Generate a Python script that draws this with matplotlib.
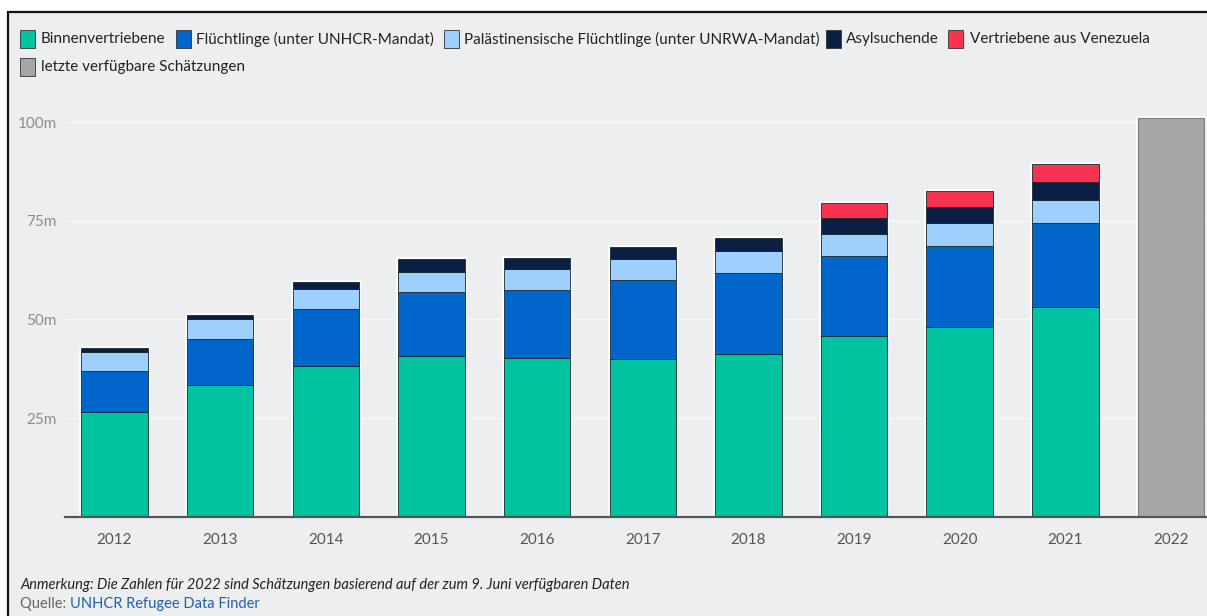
import matplotlib
matplotlib.use("Agg")
import matplotlib.pyplot as plt
from matplotlib.patches import Rectangle
import numpy as np

# ---------------- data ----------------
years = ["2012", "2013", "2014", "2015", "2016", "2017", "2018", "2019", "2020", "2021"]
est_year = "2022"
binnen = [26.4, 33.3, 38.2, 40.8, 40.3, 40.0, 41.3, 45.7, 48.0, 53.2]
fluecht = [10.5, 11.7, 14.4, 16.1, 17.2, 19.9, 20.4, 20.4, 20.7, 21.3]
palaest = [4.9, 5.0, 5.1, 5.2, 5.3, 5.4, 5.5, 5.6, 5.7, 5.8]
asyl = [0.9, 1.2, 1.8, 3.2, 2.8, 3.1, 3.5, 4.1, 4.1, 4.6]
venez = [0, 0, 0, 0, 0, 0, 0, 3.6, 3.9, 4.4]
estimate_2022 = 100.9

series_names = ["Binnenvertriebene", "Flüchtlinge (unter UNHCR-Mandat)",
                "Palästinensische Flüchtlinge (unter UNRWA-Mandat)", "Asylsuchende",
                "Vertriebene aus Venezuela"]
est_name = "letzte verfügbare Schätzungen"
ytick_vals = [25, 50, 75, 100]
ytick_labels = ["25m", "50m", "75m", "100m"]
note_text = "Anmerkung: Die Zahlen für 2022 sind Schätzungen basierend auf der zum 9. Juni verfügbaren Daten"
source_prefix = "Quelle: "
source_link = "UNHCR Refugee Data Finder"

# ---------------- style ----------------
colors = ["#00c49f", "#0066cc", "#9ed0ff", "#0b1f45", "#f7334f"]
gray = "#a6a6a6"
bg = "#eceef0"
FONT = "Lato"
plt.rcParams["font.family"] = [FONT, "DejaVu Sans"]

W, H = 1207, 616
fig = plt.figure(figsize=(W / 100, H / 100), dpi=100, facecolor="white")

# framed background panel
frame = Rectangle((8 / W, -0.1), 1.2, 1.1 - 12 / H, transform=fig.transFigure,
                  facecolor=bg, edgecolor="#111111", linewidth=1.6, zorder=0)
fig.add_artist(frame)

ax_left = 65 / W
ax_bottom = 1 - 516.7 / H
ymax = 104
ax_top_px = 516.7 - ymax * 3.947
ax = fig.add_axes([ax_left, ax_bottom, 1 - ax_left, (516.7 - ax_top_px) / H])
ax.patch.set_visible(False)

x = np.arange(len(years))
bw = 0.63
stacks = [binnen, fluecht, palaest, asyl, venez]
totals = np.sum(np.array(stacks), axis=0)

# white halo behind the stacks
ax.bar(x, totals, width=bw, facecolor="none", edgecolor="white", linewidth=2.6, zorder=2)
ax.bar([len(years)], [estimate_2022], width=bw, facecolor="none", edgecolor="white",
       linewidth=2.6, zorder=2)

bottom = np.zeros(len(years))
for vals, c in zip(stacks, colors):
    vals = np.array(vals, dtype=float)
    m = vals > 0
    ax.bar(x[m], vals[m], bottom=bottom[m], width=bw, color=c,
           edgecolor="#1a2a2a", linewidth=0.6, zorder=3)
    bottom += vals
ax.bar([len(years)], [estimate_2022], width=bw, color=gray, edgecolor="#7a7a7a",
       linewidth=0.8, zorder=3)

ax.set_xlim(-0.4685, 10.34)
ax.set_ylim(0, ymax)
ax.set_xticks(list(x) + [len(years)])
ax.set_xticklabels(years + [est_year], fontsize=11, color="#555555")
ax.set_yticks(ytick_vals)
ax.set_yticklabels(ytick_labels, fontsize=11, color="#8c8c8c")
ax.tick_params(axis="both", length=0)
ax.tick_params(axis="x", pad=12)
ax.tick_params(axis="y", pad=6)
ax.yaxis.grid(True, color="#f8f8f8", linewidth=1.0)
ax.set_axisbelow(True)
for s in ["top", "right", "left"]:
    ax.spines[s].set_visible(False)
ax.spines["bottom"].set_color("#555555")
ax.spines["bottom"].set_linewidth(1.6)
ax.spines["bottom"].set_zorder(4)

# ---------------- legend (manual flow) ----------------
def fx(px):
    return px / W


def fy(py):
    return 1 - py / H


legend_items = [
    (20, 41, 39, series_names[0], colors[0]),
    (176, 196, 39, series_names[1], colors[1]),
    (444, 464, 39, series_names[2], colors[2]),
    (826, 846, 39, series_names[3], colors[3]),
    (948, 970, 39, series_names[4], colors[4]),
    (20, 41, 67, est_name, gray),
]
for sqx, tx, cy, label, c in legend_items:
    fig.add_artist(Rectangle((fx(sqx), fy(cy + 9)), 15 / W, 18 / H, transform=fig.transFigure,
                             facecolor=c, edgecolor="#333333", linewidth=0.6))
    fig.text(fx(tx), fy(cy), label, fontsize=11, color="#222222", va="center", ha="left")

# ---------------- notes ----------------
fig.text(fx(20), fy(585), note_text, fontsize=10.5, style="italic", color="#222222",
         va="center", ha="left")
t = fig.text(fx(20), fy(604), source_prefix, fontsize=10.5, color="#666666", va="center", ha="left")
fig.canvas.draw()
bb = t.get_window_extent()
fig.text(bb.x1 / W, fy(604), source_link, fontsize=10.5, color="#1f5fb0", va="center", ha="left")

fig.savefig("out.png", dpi=100, facecolor="white")
